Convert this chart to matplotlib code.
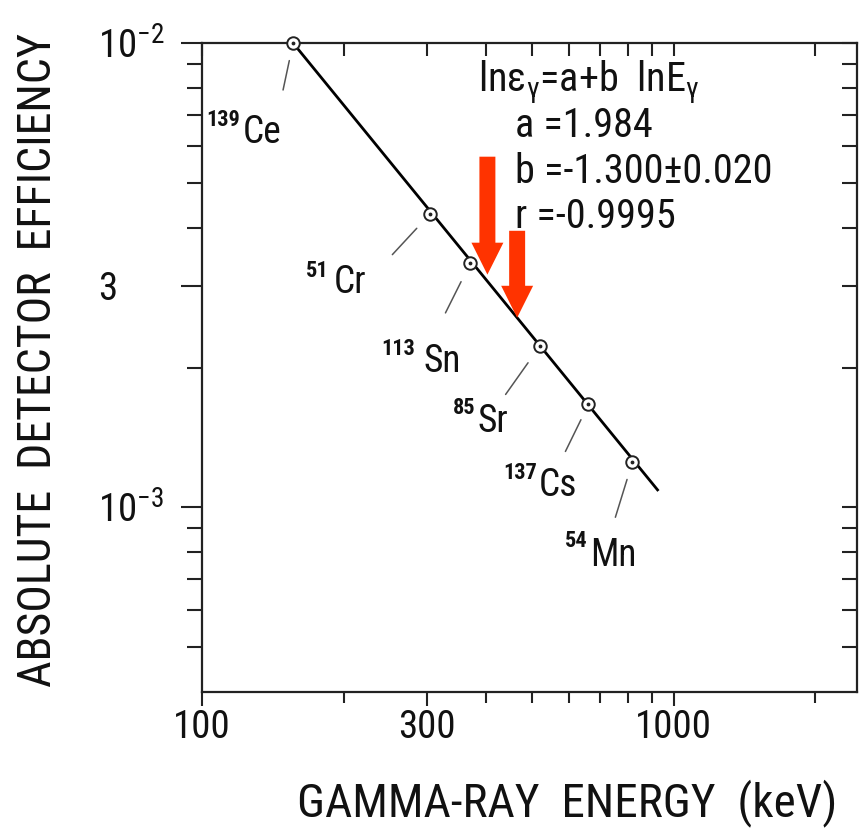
import matplotlib
matplotlib.use("Agg")
import matplotlib.pyplot as plt
from matplotlib.ticker import NullLocator

# detector efficiency calibration points
energy_kev = [156, 305, 371, 520, 660, 818]
efficiency = [1.0e-2, 4.29e-3, 3.36e-3, 2.22e-3, 1.665e-3, 1.25e-3]
mass_numbers = ['139', '51', '113', '85', '137', '54']
elements = ['Ce', 'Cr', 'Sn', 'Sr', 'Cs', 'Mn']

# ends of the fitted line
fit_energy = [156, 925]
fit_eff = [1.0e-2, 1.09e-3]

x_major = [100, 300, 1000]
x_major_labels = ['100', '300', '1000']
x_minor = [200, 400, 500, 600, 700, 800, 900, 2000]
y_major = [1e-3, 3e-3, 1e-2]
y_major_labels = [r'$10^{-3}$', '3', r'$10^{-2}$']
y_minor = [5e-4, 6e-4, 7e-4, 8e-4, 9e-4, 2e-3, 4e-3, 5e-3, 6e-3, 7e-3, 8e-3, 9e-3]

FONT = ['Roboto Condensed', 'DejaVu Sans']
plt.rcParams['font.family'] = FONT
plt.rcParams['mathtext.fontset'] = 'custom'
plt.rcParams['mathtext.rm'] = 'Roboto Condensed'
plt.rcParams['mathtext.it'] = 'Roboto Condensed'
plt.rcParams['mathtext.bf'] = 'Roboto Condensed:bold'
plt.rcParams['text.color'] = '#111111'

W, H = 861, 830


def fx(x):
    return x / W


def fy(y):
    return 1 - y / H


fig = plt.figure(figsize=(W / 100, H / 100), dpi=100)
ax = fig.add_axes([fx(202), fy(692), fx(857) - fx(202), fy(43) - fy(692)])
ax.set_xscale('log')
ax.set_yscale('log')
ax.set_xlim(100, 2450)
ax.set_ylim(4.0e-4, 1.0e-2)

for s in ax.spines.values():
    s.set_linewidth(1.6)
    s.set_color('#222222')

ax.set_xticks(x_major)
ax.set_xticklabels(x_major_labels)
ax.set_xticks(x_minor, minor=True)
ax.set_xticklabels([], minor=True)
ax.set_yticks(y_major)
ax.set_yticklabels(y_major_labels)
ax.set_yticks(y_minor, minor=True)
ax.set_yticklabels([], minor=True)
ax.tick_params(axis='x', which='major', direction='out', length=10, width=1.5,
               labelsize=28, pad=2, colors='#222222', labelcolor='#111111')
ax.tick_params(axis='x', which='minor', direction='out', length=8, width=1.5, colors='#222222')
ax.tick_params(axis='y', which='major', direction='out', length=15, width=1.5,
               labelsize=28, pad=60, colors='#222222', labelcolor='#111111')
ax.tick_params(axis='y', which='minor', direction='out', length=11, width=1.5, colors='#222222')
for lab in ax.get_yticklabels():
    lab.set_horizontalalignment('left')

# top and right ticks point inward
top = ax.secondary_xaxis('top')
top.set_xticks(x_major + x_minor)
top.tick_params(direction='in', length=9, width=1.5, labeltop=False, colors='#222222')
top.xaxis.set_minor_locator(NullLocator())
top.spines['top'].set_visible(False)
right = ax.secondary_yaxis('right')
right.set_yticks(y_major + y_minor)
right.tick_params(direction='in', length=11, width=1.5, labelright=False, colors='#222222')
right.yaxis.set_minor_locator(NullLocator())
right.spines['right'].set_visible(False)

ax.plot(fit_energy, fit_eff, color='black', lw=2.0, zorder=2)
ax.plot(energy_kev, efficiency, 'o', ms=9, mfc='white', mec='#222222', mew=1.4,
        clip_on=False, zorder=3)
ax.plot(energy_kev, efficiency, '.', ms=3.5, color='#222222', clip_on=False, zorder=4)

# label placement, pixels relative to the point (right, down)
label_pos = [(-50, 100), (-97, 79), (-47, 109), (-62, 86), (-50, 92), (-42, 104)]
leader_end = [(-10, 47), (-38, 41), (-25, 50), (-34, 48), (-23, 47), (-17, 55)]
leader_gap = [18, 20, 21, 20, 17, 18]
sup_shift = [(-3, -17), (-5, -16), (-8, -17), (-2, -18), (-1, -17), (-3, -19)]
pt = 0.72
for i in range(len(elements)):
    e, y = energy_kev[i], efficiency[i]
    ex, ey = leader_end[i]
    ax.annotate('', xy=(e, y), xytext=(ex * pt, -ey * pt), textcoords='offset points',
                arrowprops=dict(arrowstyle='-', color='#555555', lw=1.1,
                                shrinkA=0, shrinkB=leader_gap[i] * pt),
                annotation_clip=False)
    lx, ly = label_pos[i]
    ax.annotate(elements[i], xy=(e, y), xytext=(lx * pt, -ly * pt), textcoords='offset points',
                ha='left', va='baseline', fontsize=27, annotation_clip=False)
    sx, sy = sup_shift[i]
    ax.annotate(mass_numbers[i], xy=(e, y), xytext=((lx + sx) * pt, -(ly + sy) * pt),
                textcoords='offset points', ha='right', va='baseline', fontsize=16,
                fontweight='bold', annotation_clip=False)

# red arrows pointing at the fitted line
for tip, tail in [((403, 3.17e-3), (403, 5.69e-3)), ((466, 2.56e-3), (466, 3.94e-3))]:
    ax.annotate('', xy=tip, xytext=tail,
                arrowprops=dict(arrowstyle='simple,head_length=23,head_width=23,tail_width=11.5',
                                mutation_scale=1, color='#ff3300', lw=0, shrinkA=0, shrinkB=0))

fig.text(fx(478), fy(92), 'ln\u03b5$_{\\gamma}$=a+b  lnE$_{\\gamma}$', fontsize=29, va='baseline')
fig.text(fx(515), fy(137), 'a =1.984', fontsize=29, va='baseline')
fig.text(fx(515), fy(183), 'b =-1.300\u00b10.020', fontsize=29, va='baseline')
fig.text(fx(515), fy(228), 'r =-0.9995', fontsize=29, va='baseline')

fig.text(fx(567), fy(803), 'GAMMA-RAY  ENERGY  (keV)', fontsize=34, ha='center', va='center')
fig.text(fx(38), fy(360), 'ABSOLUTE  DETECTOR  EFFICIENCY', fontsize=33, ha='center',
         va='center', rotation=90)

fig.savefig('out.png', dpi=100)
